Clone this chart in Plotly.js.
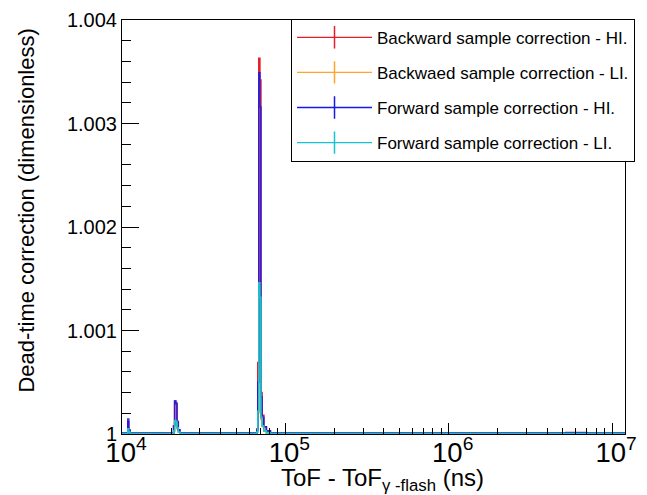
<!DOCTYPE html>
<html>
<head>
<meta charset="utf-8">
<script src="https://cdn.plot.ly/plotly-3.0.1.min.js"></script>
<style>html,body{margin:0;padding:0;background:#fff;}#chart{width:647px;height:495px;}</style>
</head>
<body>
<div id="chart"></div>
<script>
// Bin left edges (ns)
const tof = [1.000e4, 1.085e4, 1.100e4, 1.120e4, 2.070e4, 2.100e4, 2.135e4, 2.170e4, 2.210e4, 2.260e4,
             6.700e4, 6.780e4, 6.880e4, 6.980e4, 7.080e4, 7.200e4, 7.380e4, 7.650e4, 8.100e4, 5.200e6, 7.000e6, 1.200e7];

const backwardHI = [1.000008, 1.00012, 1.00003, 1.000008, 1.00008, 1.00031, 1.00029, 1.00012, 1.00004, 1.000008,
                    1.00005, 1.00069, 1.00363, 1.00342, 1.00040, 1.00018, 1.00007, 1.00003, 1.000008, 1.000015, 1.000008, 1.000008];
const backwardLI = [1.000005, 1.00004, 1.00002, 1.000005, 1.00003, 1.00011, 1.00010, 1.00005, 1.00002, 1.000005,
                    1.00002, 1.00020, 1.00141, 1.00128, 1.00014, 1.00007, 1.00003, 1.00001, 1.000005, 1.000005, 1.000005, 1.000005];
const forwardHI  = [1.000008, 1.000145, 1.00004, 1.000008, 1.00008, 1.00032, 1.00030, 1.00012, 1.00004, 1.000008,
                    1.00004, 1.00050, 1.00349, 1.00316, 1.00036, 1.00016, 1.00007, 1.00003, 1.000008, 1.000012, 1.000008, 1.000008];
const forwardLI  = [1.000005, 1.00005, 1.00002, 1.000005, 1.00003, 1.00013, 1.00012, 1.00006, 1.00002, 1.000005,
                    1.00002, 1.00022, 1.00146, 1.00132, 1.00016, 1.00008, 1.00003, 1.00001, 1.000005, 1.000005, 1.000005, 1.000005];

const seriesNames = ["Backward sample correction - HI.", "Backwaed sample correction - LI.",
                     "Forward sample correction - HI.", "Forward sample correction - LI."];
const seriesColors = ["rgb(228,30,40)", "rgb(255,165,40)", "rgb(25,25,230)", "rgb(25,195,205)"];
const seriesValues = [backwardHI, backwardLI, forwardHI, forwardLI];

const FONT = "Liberation Sans, Arial, Helvetica, sans-serif";

const traces = [];
seriesValues.forEach((vals, i) => {
  traces.push({
    type: "scatter", mode: "lines", x: tof, y: vals,
    line: {color: seriesColors[i], width: 1.6, shape: "hv"},
    opacity: i === 2 ? 0.88 : 1,
    showlegend: false, hoverinfo: "skip"
  });
});
seriesValues.forEach((vals, i) => {
  traces.push({
    type: "scatter", mode: "lines+markers", x: [null], y: [null],
    name: seriesNames[i], legendgroup: "g" + i,
    line: {color: seriesColors[i], width: 1.3},
    marker: {symbol: "line-ns", size: 16, line: {color: seriesColors[i], width: 1.5}}
  });
});

const layout = {
  width: 647, height: 495,
  margin: {l: 122, r: 13, t: 20, b: 61, pad: 0},
  paper_bgcolor: "#fff", plot_bgcolor: "#fff",
  font: {family: FONT, color: "#000"},
  showlegend: true,
  xaxis: {
    type: "log", range: [4, 7.079], dtick: 1, exponentformat: "power",
    ticks: "inside", ticklen: 11, tickwidth: 1, tickcolor: "#000",
    minor: {ticks: "inside", ticklen: 6, tickwidth: 1, tickcolor: "#000", dtick: "D1", showgrid: false},
    showline: true, linecolor: "#000", linewidth: 1, mirror: true,
    showgrid: false, zeroline: false,
    ticklabelstandoff: -5, ticklabelshift: 4,
    tickfont: {family: FONT, size: 22, color: "#000"}
  },
  yaxis: {
    range: [1, 1.004], dtick: 0.001, tick0: 1,
    ticks: "inside", ticklen: 17, tickwidth: 1, tickcolor: "#000",
    minor: {ticks: "inside", ticklen: 9, tickwidth: 1, tickcolor: "#000", dtick: 0.0002, showgrid: false},
    showline: true, linecolor: "#000", linewidth: 1, mirror: true,
    showgrid: false, zeroline: false,
    tickfont: {family: FONT, size: 20, color: "#000"}
  },
  legend: {
    x: 0.336, y: 1.003, xanchor: "left", yanchor: "top",
    bgcolor: "#fff", bordercolor: "#000", borderwidth: 1,
    font: {family: FONT, size: 17, color: "#000"},
    tracegroupgap: 10, itemwidth: 75, traceorder: "grouped"
  },
  annotations: [{
    text: "Dead-time correction (dimensionless)", textangle: -90,
    xref: "paper", yref: "paper", x: -0.1895, y: 0.539,
    xanchor: "center", yanchor: "middle", showarrow: false,
    font: {family: FONT, size: 22, color: "#000"}
  }, {
    text: "ToF - ToF<sub>γ -flash</sub> (ns)",
    xref: "paper", yref: "paper", x: 0.3125, y: -0.110,
    xanchor: "left", yanchor: "middle", showarrow: false,
    font: {family: FONT, size: 24, color: "#000"}
  }]
};

Plotly.newPlot("chart", traces, layout, {staticPlot: true, displayModeBar: false});
</script>
</body>
</html>
